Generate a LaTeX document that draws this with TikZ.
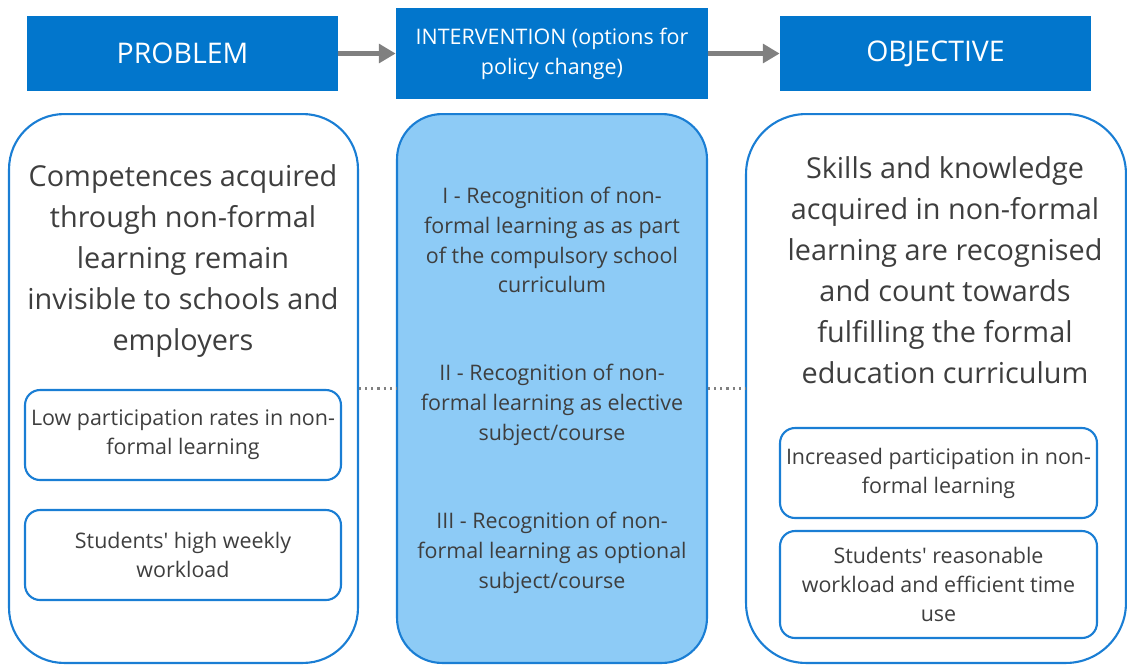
\documentclass[tikz,border=0pt]{standalone}
\usepackage{fontspec}
\setmainfont{Open Sans}
\usetikzlibrary{arrows.meta}

\definecolor{headblue}{RGB}{2,118,204}
\definecolor{lineblue}{RGB}{26,126,212}
\definecolor{midfill}{RGB}{141,203,246}
\definecolor{txtgray}{RGB}{62,62,62}
\definecolor{arrgray}{RGB}{128,128,128}

\tikzset{
  header/.style={fill=headblue, text=white, align=center, inner sep=0pt},
  panel/.style={draw=lineblue, line width=1.2pt, inner sep=0pt},
  subbox/.style={draw=lineblue, line width=1.2pt, rounded corners=0.3cm, align=center,
    text=txtgray, inner sep=0pt, minimum height=1.8cm,
    font=\fontsize{12.2}{16.5}\selectfont},
  bigtext/.style={align=center, text=txtgray, font=\fontsize{16.4}{23.3}\selectfont},
  midtext/.style={align=center, text=txtgray, font=\fontsize{12.2}{17}\selectfont},
  flow/.style={draw=arrgray, line width=2.4pt, -{Triangle[length=9.5pt,width=10.5pt]}},
  dotlink/.style={draw=arrgray, line width=1.2pt, dash pattern=on 1.2pt off 2.3pt}
}

\begin{document}
\begin{tikzpicture}[x=0.02cm, y=-0.02cm]
  \useasboundingbox (0,0) rectangle (1127,664);

  % headers
  \node[header, minimum width=6.22cm, minimum height=1.5cm,
    font=\fontsize{16.2}{20}\selectfont] (hprob) at (182.5,53.5) {PROBLEM};
  \node[header, minimum width=6.24cm, minimum height=1.82cm,
    font=\fontsize{12.2}{17}\selectfont] (hint) at (552,53.5) {INTERVENTION (options for\\policy change)};
  \node[header, minimum width=6.22cm, minimum height=1.5cm,
    font=\fontsize{16.2}{20}\selectfont] (hobj) at (935.5,53.5) {OBJECTIVE};
  \draw[flow] (hprob.east) -- (hint.west);
  \draw[flow] (hint.east) -- (hobj.west);

  % panels
  \node[panel, rounded corners=1.1cm, minimum width=6.98cm, minimum height=10.98cm] (lpanel) at (183.5,388.5) {};
  \node[panel, fill=midfill, rounded corners=0.9cm, minimum width=6.2cm, minimum height=10.98cm] (mpanel) at (552,388.5) {};
  \node[panel, rounded corners=1.2cm, minimum width=7.6cm, minimum height=10.98cm] (rpanel) at (936,388.5) {};
  \draw[dotlink] (lpanel.east) -- (mpanel.west);
  \draw[dotlink] (mpanel.east) -- (rpanel.west);

  % problem side
  \node[bigtext] (ptext) at (183,261) {Competences acquired\\through non-formal\\learning remain\\invisible to schools and\\employers};
  \node[subbox, minimum width=6.32cm] (plow) at (183,435) {Low participation rates in non-\\formal learning};
  \node[subbox, minimum width=6.32cm] (pload) at (183,555) {Students\textquotesingle{} high weekly\\workload};

  % options
  \node[midtext] (opt1) at (552,240) {I - Recognition of non-\\formal learning as as part\\of the compulsory school\\curriculum};
  \node[midtext] (opt2) at (552,405) {II - Recognition of non-\\formal learning as elective\\subject/course};
  \node[midtext] (opt3) at (552,553) {III - Recognition of non-\\formal learning as optional\\subject/course};

  % objective side
  \node[bigtext] (otext) at (945,270) {Skills and knowledge\\acquired in non-formal\\learning are recognised\\and count towards\\fulfilling the formal\\education curriculum};
  \node[subbox, minimum width=6.34cm] (oinc) at (938.5,473) {Increased participation in non-\\formal learning};
  \node[subbox, minimum width=6.34cm, minimum height=2.14cm] (oload) at (938.5,584.5) {Students\textquotesingle{} reasonable\\workload and efficient time\\use};
\end{tikzpicture}
\end{document}
